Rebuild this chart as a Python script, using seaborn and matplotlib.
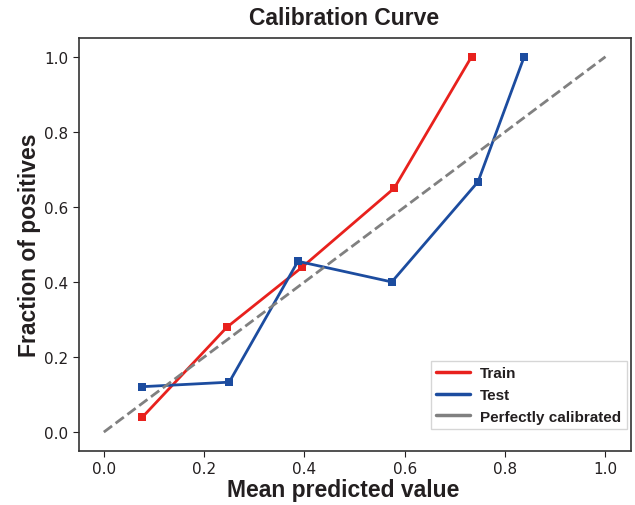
import numpy as np
import pandas as pd
import seaborn as sns
import matplotlib.pyplot as plt

# values
train_pred = [0.077, 0.245, 0.395, 0.579, 0.733]
train_frac = [0.04, 0.279, 0.439, 0.650, 1.0]
test_pred = [0.077, 0.250, 0.387, 0.574, 0.746, 0.838]
test_frac = [0.121, 0.133, 0.455, 0.400, 0.667, 1.0]
ref_line = [0.0, 1.0]

sns.set_style("ticks")
text_color = "#231f20"
bold_font = "Liberation Sans"

fig, ax = plt.subplots(figsize=(6.35, 5.06), dpi=100)
fig.subplots_adjust(left=0.124, right=0.993, top=0.923, bottom=0.107)

train_df = pd.DataFrame({"pred": train_pred, "frac": train_frac})
test_df = pd.DataFrame({"pred": test_pred, "frac": test_frac})

sns.lineplot(data=train_df, x="pred", y="frac", ax=ax, color="#e8211d", lw=2,
             marker="s", markersize=5.5, markeredgewidth=0, label="Train", sort=False)
sns.lineplot(data=test_df, x="pred", y="frac", ax=ax, color="#1c4c9f", lw=2,
             marker="s", markersize=5.5, markeredgewidth=0, label="Test", sort=False)
ax.plot(ref_line, ref_line, ls="--", color="#808080", lw=2, label="Perfectly calibrated")

ax.set_xticks(np.arange(0, 1.01, 0.2))
ax.set_yticks(np.arange(0, 1.01, 0.2))
ax.tick_params(labelsize=11, colors=text_color, length=4)
for lab in ax.get_xticklabels() + ax.get_yticklabels():
    lab.set_family("DejaVu Sans")
for sp in ax.spines.values():
    sp.set_color("#333333")
    sp.set_linewidth(1.2)

ax.set_xlabel("Mean predicted value", fontsize=16.5, fontweight="bold",
              family=bold_font, color=text_color)
ax.xaxis.set_label_coords(0.48, -0.065)
ax.set_ylabel("Fraction of positives", fontsize=16.5, fontweight="bold",
              family=bold_font, color=text_color, labelpad=2)
ax.set_title("Calibration Curve", fontsize=16.5, fontweight="bold",
             family=bold_font, color=text_color, pad=10, x=0.48)

leg = ax.legend(loc="lower right", bbox_to_anchor=(0.993, 0.053), fancybox=False,
                handlelength=2.2, handletextpad=0.7, borderaxespad=0, borderpad=0.35,
                prop={"family": bold_font, "weight": "bold", "size": 11},
                labelspacing=0.5)
for h in leg.get_lines():
    h.set_marker("")
    h.set_linestyle("-")
    h.set_linewidth(2.5)
for t in leg.get_texts():
    t.set_color(text_color)

fig.savefig("out.png", dpi=100)
